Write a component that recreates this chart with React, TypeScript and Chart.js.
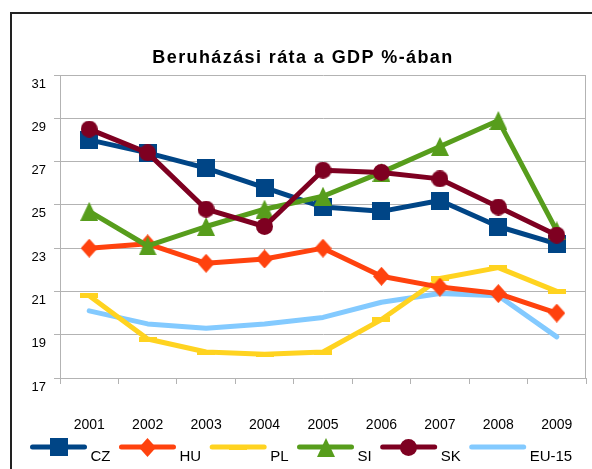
import { useEffect, useRef } from 'react';
import { Chart, registerables } from 'chart.js';

Chart.register(...registerables);

const years = ['2001', '2002', '2003', '2004', '2005', '2006', '2007', '2008', '2009'];
const czValues = [28.0, 27.4, 26.7, 25.8, 24.9, 24.7, 25.2, 24.0, 23.2];
const huValues = [23.0, 23.2, 22.3, 22.5, 23.0, 21.7, 21.2, 20.9, 20.0];
const plValues = [20.8, 18.8, 18.2, 18.1, 18.2, 19.7, 21.6, 22.1, 21.0];
const siValues = [24.7, 23.1, 24.0, 24.8, 25.4, 26.5, 27.7, 28.9, 23.8];
const skValues = [28.5, 27.4, 24.8, 24.0, 26.6, 26.5, 26.2, 24.9, 23.6];
const euValues = [20.1, 19.5, 19.3, 19.5, 19.8, 20.5, 20.9, 20.8, 18.9];
const seriesNames = ['CZ', 'HU', 'PL', 'SI', 'SK', 'EU-15'];
const seriesColors = ['#004586', '#ff420e', '#ffd320', '#579d1c', '#7e0021', '#83caff'];
const markerKinds = ['square', 'diamond', 'dash', 'triangle', 'circle', 'none'];
const drawOrder = [4, 3, 5, 2, 1, 6];
const titleText = 'Beruházási ráta a GDP %-ában';
const yMin = 17;
const yMax = 31;
const yStep = 2;

const FONT = "'Liberation Sans', Arial, sans-serif";

function makeMarker(kind: string, color: string): HTMLCanvasElement | false {
  if (kind === 'none') return false;
  const c = document.createElement('canvas');
  let w = 18, h = 18;
  if (kind === 'diamond') { w = 17; h = 19; }
  if (kind === 'dash') { w = 18; h = 5; }
  if (kind === 'triangle') { w = 18; h = 19; }
  if (kind === 'circle') { w = 17; h = 17; }
  c.width = w; c.height = h;
  const g = c.getContext('2d')!;
  g.fillStyle = color;
  g.beginPath();
  if (kind === 'square' || kind === 'dash') {
    g.rect(0, 0, w, h);
  } else if (kind === 'diamond') {
    g.moveTo(w / 2, 0); g.lineTo(w, h / 2); g.lineTo(w / 2, h); g.lineTo(0, h / 2); g.closePath();
  } else if (kind === 'triangle') {
    g.moveTo(w / 2, 0); g.lineTo(w, h); g.lineTo(0, h); g.closePath();
  } else if (kind === 'circle') {
    g.arc(w / 2, h / 2, w / 2, 0, Math.PI * 2);
  }
  g.fill();
  return c;
}

export default function App() {
  const ref = useRef<HTMLCanvasElement | null>(null);

  useEffect(() => {
    const canvas = ref.current;
    if (!canvas) return;
    const allValues = [czValues, huValues, plValues, siValues, skValues, euValues];
    const markers = markerKinds.map((k, i) => makeMarker(k, seriesColors[i]));

    const decor = {
      id: 'decor',
      beforeDraw(chart: any) {
        const ctx = chart.ctx;
        ctx.save();
        ctx.fillStyle = '#ffffff';
        ctx.fillRect(0, 0, chart.width, chart.height);
        ctx.strokeStyle = '#222222';
        ctx.lineWidth = 2;
        ctx.strokeRect(11, 13, chart.width + 20, chart.height + 20);
        ctx.restore();
      },
      afterDraw(chart: any) {
        const ctx = chart.ctx;
        const area = chart.chartArea;
        ctx.save();
        // right border of plot
        ctx.strokeStyle = '#b3b3b3';
        ctx.lineWidth = 1;
        ctx.beginPath();
        ctx.moveTo(Math.round(area.right) - 0.5, area.top);
        ctx.lineTo(Math.round(area.right) - 0.5, area.bottom);
        ctx.stroke();
        // title
        ctx.fillStyle = '#000000';
        ctx.font = `bold 18px ${FONT}`;
        (ctx as any).letterSpacing = '1.4px';
        ctx.textAlign = 'center';
        ctx.textBaseline = 'alphabetic';
        ctx.fillText(titleText, 303, 63);
        (ctx as any).letterSpacing = '0px';
        // legend
        ctx.font = `15px ${FONT}`;
        ctx.textAlign = 'left';
        let x = 30;
        const lineY = 447;
        seriesNames.forEach((name, i) => {
          ctx.strokeStyle = seriesColors[i];
          ctx.lineWidth = 5;
          ctx.lineCap = 'round';
          ctx.beginPath();
          ctx.moveTo(x + 2.5, lineY);
          ctx.lineTo(x + 57 - 2.5, lineY);
          ctx.stroke();
          const m = markers[i];
          if (m) ctx.drawImage(m, Math.round(x + 28.5 - m.width / 2), Math.round(lineY - m.height / 2));
          const tx = x + 60.5;
          ctx.fillStyle = '#000000';
          ctx.fillText(name, tx, 461);
          x = tx + ctx.measureText(name).width + 8.5;
        });
        ctx.restore();
      },
    };

    const chart = new Chart(canvas, {
      type: 'line',
      data: {
        labels: years,
        datasets: seriesNames.map((name, i) => ({
          label: name,
          data: allValues[i],
          borderColor: seriesColors[i],
          backgroundColor: seriesColors[i],
          borderWidth: 5,
          borderJoinStyle: 'round' as const,
          borderCapStyle: 'round' as const,
          tension: 0,
          fill: false,
          order: drawOrder[i],
          pointStyle: markers[i] || 'circle',
          pointRadius: markers[i] ? 6 : 0,
          pointHoverRadius: markers[i] ? 6 : 0,
          pointBorderWidth: 0,
        })),
      },
      options: {
        responsive: false,
        animation: false,
        events: [],
        layout: { padding: { top: 75, right: 0, left: 0, bottom: 0 } },
        plugins: {
          legend: { display: false },
          title: { display: false },
          tooltip: { enabled: false },
        },
        scales: {
          x: {
            type: 'category',
            offset: true,
            grid: { offset: true, drawOnChartArea: false, drawTicks: true, tickLength: 6, color: '#b3b3b3' },
            border: { color: '#b3b3b3' },
            ticks: { padding: 33, color: '#000000', font: { family: FONT, size: 14 }, maxRotation: 0, autoSkip: false },
            afterFit: (s: any) => { s.height = 91; s.paddingLeft = 0; s.paddingRight = 0; },
          },
          y: {
            min: yMin,
            max: yMax,
            ticks: { stepSize: yStep, padding: 8, labelOffset: 9, color: '#000000', font: { family: FONT, size: 13 } },
            grid: { color: '#b3b3b3', tickLength: 6 },
            border: { color: '#b3b3b3' },
            afterFit: (s: any) => { s.width = 60; s.paddingTop = 0; s.paddingBottom = 0; },
          },
        },
      },
      plugins: [decor],
    });
    return () => chart.destroy();
  }, []);

  return (
    <div style={{ position: 'absolute', left: 0, top: 0, width: 592, height: 469 }}>
      <canvas ref={ref} width={592} height={469} style={{ display: 'block' }} />
    </div>
  );
}
